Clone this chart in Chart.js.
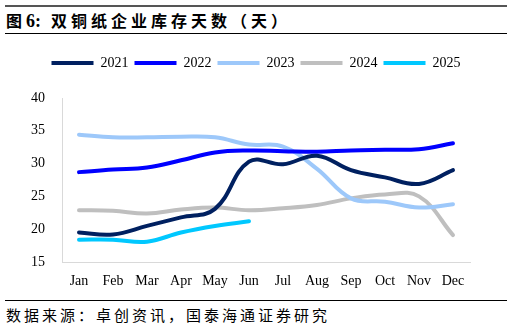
<!DOCTYPE html>
<html>
<head>
<meta charset="utf-8">
<script src="https://cdn.jsdelivr.net/npm/chart.js@4/dist/chart.umd.min.js"></script>
<style>
  html, body { margin: 0; padding: 0; background: #fff; }
  body { width: 512px; height: 330px; position: relative; overflow: hidden; }
  .topline { position: absolute; left: 5px; width: 502px; top: 5px; height: 2px; background: #555; }
  .title { position: absolute; left: 6px; top: 9px; font: bold 16px "Noto Sans CJK SC", sans-serif; color: #000; line-height: 22px; letter-spacing: 4px; white-space: nowrap; }
  .title .num { font-family: "Liberation Serif", serif; font-size: 18px; letter-spacing: 0; margin-right: 10px; }
  .midline { position: absolute; left: 5px; width: 502px; top: 33px; height: 1px; background: #000; }
  .botline { position: absolute; left: 5px; width: 502px; top: 300px; height: 1px; background: #000; }
  .source { position: absolute; left: 6px; top: 305px; font: 15px "Noto Sans CJK SC", sans-serif; color: #000; line-height: 20px; letter-spacing: 3px; white-space: nowrap; }
  #wrap { position: absolute; left: 0; top: 38px; width: 512px; height: 262px; }
</style>
</head>
<body>
<div class="topline"></div>
<div class="title">图<span class="num">6:</span>双铜纸企业库存天数（天）</div>
<div class="midline"></div>
<div id="wrap"><canvas id="chart"></canvas></div>
<div class="botline"></div>
<div class="source">数据来源：卓创资讯，国泰海通证券研究</div>
<script>
const months = ["Jan", "Feb", "Mar", "Apr", "May", "Jun", "Jul", "Aug", "Sep", "Oct", "Nov", "Dec"];
const y2021 = [19.5, 19.2, 20.5, 21.8, 23.1, 30.3, 29.9, 31.2, 29.0, 27.9, 26.9, 29.0];
const y2022 = [28.7, 29.1, 29.4, 30.5, 31.7, 32.0, 31.9, 31.8, 32.0, 32.1, 32.2, 33.1];
const y2023 = [34.4, 34.0, 34.0, 34.1, 34.0, 32.9, 32.6, 29.2, 24.7, 24.2, 23.3, 23.8];
const y2024 = [22.9, 22.8, 22.4, 23.0, 23.3, 22.9, 23.2, 23.7, 24.7, 25.3, 25.0, 19.1];
const y2025 = [18.4, 18.4, 18.1, 19.5, 20.5, 21.2, null, null, null, null, null, null];

const seriesNames = ["2021", "2022", "2023", "2024", "2025"];
const seriesData = [y2021, y2022, y2023, y2024, y2025];
const seriesColors = ["#002060", "#0000FF", "#9DC8FA", "#BFBFBF", "#00C8FF"];

const serif = "'Liberation Serif', 'Times New Roman', serif";

// fixed legend block height so the plot starts where the reference does,
// and centre the legend on the page rather than on the padded chart box
const legendGap = {
    id: "legendGap",
    beforeInit(chart) {
        const fit = chart.legend.fit;
        chart.legend.fit = function () {
            fit.bind(chart.legend)();
            this.height = 48;
        };
    },
    afterLayout(chart) {
        chart.legend.left += 21;
        chart.legend.right += 21;
    },
};

new Chart(document.getElementById("chart"), {
    type: "line",
    data: {
        labels: months,
        datasets: seriesNames.map((name, i) => ({
            label: name,
            data: seriesData[i],
            borderColor: seriesColors[i],
            backgroundColor: seriesColors[i],
            borderWidth: 4,
            borderCapStyle: "round",
            pointRadius: 0,
            tension: 0.4,
            fill: false,
            spanGaps: false,
        })),
    },
    options: {
        responsive: true,
        maintainAspectRatio: false,
        animation: false,
        layout: { padding: { left: 0, right: 42, top: 12, bottom: 0 } },
        plugins: {
            legend: {
                position: "top",
                labels: {
                    usePointStyle: true,
                    pointStyle: "line",
                    pointStyleWidth: 42,
                    boxWidth: 42,
                    padding: 6,
                    color: "#000",
                    font: { family: serif, size: 14 },
                },
            },
            tooltip: { enabled: false },
        },
        scales: {
            x: {
                offset: true,
                grid: { display: false, drawTicks: false },
                border: { color: "#D9D9D9", width: 1 },
                ticks: { color: "#000", font: { family: serif, size: 14 }, padding: 11, maxRotation: 0, autoSkip: false },
                afterFit: (scale) => { scale.height = 38; },
            },
            y: {
                min: 15,
                max: 40,
                grid: { display: false, drawTicks: false },
                border: { color: "#D9D9D9", width: 1 },
                ticks: { stepSize: 5, color: "#000", font: { family: serif, size: 14 }, padding: 17 },
                afterFit: (scale) => { scale.width = 62; },
            },
        },
    },
    plugins: [legendGap],
});
</script>
</body>
</html>
